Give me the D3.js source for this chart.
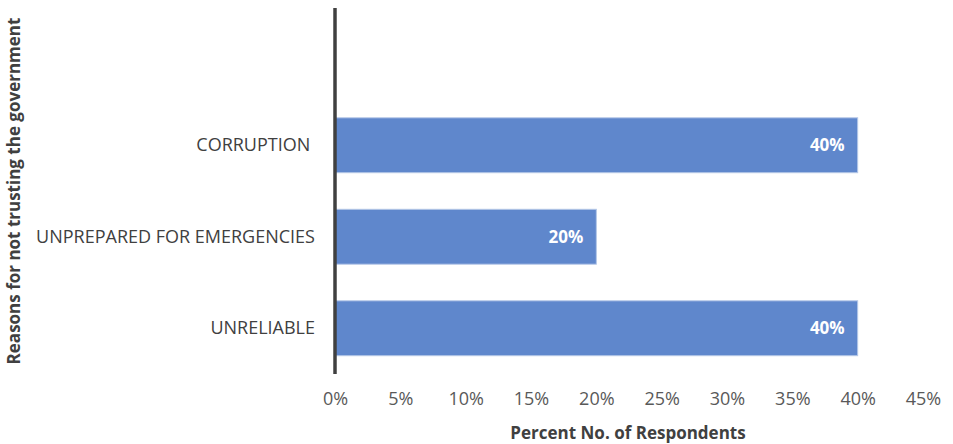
<!DOCTYPE html>
<html>
<head>
<meta charset="utf-8">
<script src="https://cdn.jsdelivr.net/npm/d3@7"></script>
<style>
  body { margin: 0; background: #fff; }
  svg text { font-family: "Open Sans", sans-serif; }
</style>
</head>
<body>
<svg id="chart" width="953" height="444"></svg>
<script>
'use strict';
// categories bottom -> top, top slot is empty in the original
var categories = ['UNRELIABLE', 'UNPREPARED FOR EMERGENCIES', 'CORRUPTION ', ''];
var values = [40, 20, 40, null];
var ticks = [0, 5, 10, 15, 20, 25, 30, 35, 40, 45];

var plotLeft = 335, plotRight = 923, plotTop = 8, plotBottom = 374;
var font = '"Open Sans", sans-serif';

var svg = d3.select('#chart');

var x = d3.scaleLinear().domain([0, 45]).range([plotLeft, plotRight]);
var y = d3.scaleBand().domain(categories.slice().reverse()).range([plotTop, plotBottom]).paddingInner(0.4).paddingOuter(0.2);

var data = categories.map(function(c, i){ return {cat: c, val: values[i]}; })
    .filter(function(d){ return d.val != null; });

// bars
svg.selectAll('.bar')
    .data(data)
    .enter()
    .append('rect')
    .attr('class', 'bar')
    .attr('x', x(0))
    .attr('y', function(d){ return y(d.cat); })
    .attr('width', function(d){ return x(d.val) - x(0); })
    .attr('height', y.bandwidth())
    .attr('fill', '#5f87cc')
    .attr('stroke', '#b4c7e7')
    .attr('stroke-width', 1);

// data labels
svg.selectAll('.lbl')
    .data(data)
    .enter()
    .append('text')
    .attr('x', function(d){ return x(d.val) - 13; })
    .attr('y', function(d){ return y(d.cat) + y.bandwidth()/2; })
    .attr('dy', '0.35em')
    .attr('text-anchor', 'end')
    .attr('fill', '#fff')
    .attr('font-weight', 'bold')
    .attr('font-size', '17px')
    .text(function(d){ return d.val + '%'; });

// x axis tick labels
var xAxis = svg.append('g')
    .attr('transform', 'translate(0,' + plotBottom + ')')
    .call(d3.axisBottom(x).tickValues(ticks).tickSize(0).tickPadding(18)
        .tickFormat(function(d){ return d + '%'; }));
xAxis.select('.domain').remove();
xAxis.selectAll('text')
    .attr('fill', '#595959')
    .style('font-size', '18px')
    .style('font-family', font);

// y axis
var yAxis = svg.append('g')
    .attr('transform', 'translate(' + plotLeft + ',0)')
    .call(d3.axisLeft(y).tickSize(0).tickPadding(20));
yAxis.select('.domain').remove();
yAxis.selectAll('text')
    .attr('fill', '#404040')
    .style('white-space', 'pre')
    .style('font-size', '18px')
    .style('font-family', font);

svg.append('line')
    .attr('x1', plotLeft).attr('x2', plotLeft)
    .attr('y1', plotTop).attr('y2', plotBottom)
    .attr('stroke', '#404040')
    .attr('stroke-width', 3.5);

// axis titles
svg.append('text')
    .attr('x', (plotLeft + plotRight)/2 - 1)
    .attr('y', 439)
    .attr('text-anchor', 'middle')
    .attr('fill', '#404040')
    .attr('font-weight', 'bold')
    .attr('font-size', '17px')
    .text('Percent No. of Respondents');

svg.append('text')
    .attr('transform', 'translate(20,' + (plotTop + plotBottom)/2 + ') rotate(-90)')
    .attr('text-anchor', 'middle')
    .attr('fill', '#404040')
    .attr('font-weight', 'bold')
    .attr('font-size', '17px')
    .text('Reasons for not trusting the government');
</script>
</body>
</html>
